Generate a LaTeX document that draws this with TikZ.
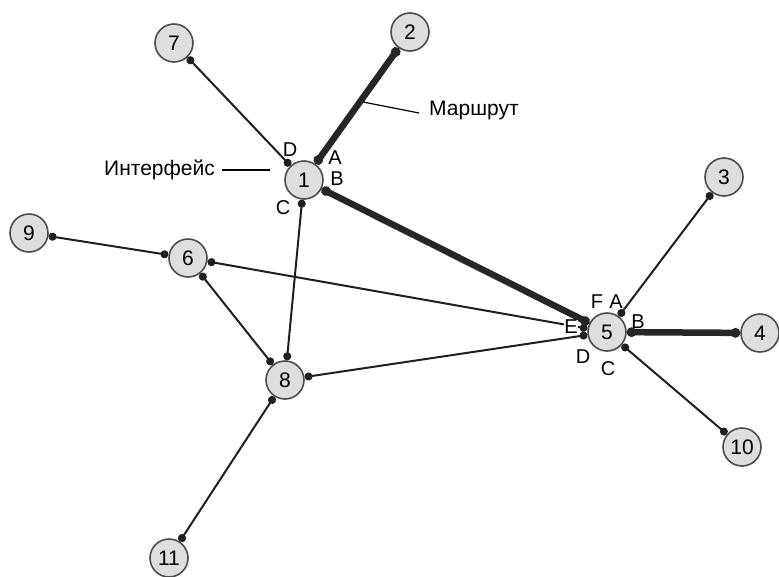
\documentclass[tikz,border=0pt]{standalone}
\usepackage{fontspec}
\setmainfont{Liberation Sans}
\usetikzlibrary{arrows.meta}
\tikzset{
  router/.style={circle,draw=black!70,line width=1.6pt,fill=black!13,minimum size=38pt,inner sep=0pt,font=\fontsize{21}{24}\selectfont},
  link/.style={line width=2pt,black!88,{Circle[length=8pt]}-{Circle[length=8pt]}},
  route/.style={line width=6.5pt,black!85,{Circle[length=9.5pt]}-{Circle[length=9.5pt]}},
  port/.style={font=\fontsize{20}{22}\selectfont,inner sep=0.5pt},
  callout/.style={font=\fontsize{21}{24}\selectfont,inner sep=0pt},
}
\begin{document}
\begin{tikzpicture}[x=1pt,y=-1pt]
\useasboundingbox (0,0) rectangle (779,576);
\node[router] (n1) at (304,180) {1}; \node[router] (n2) at (410,32) {2};
\node[router] (n3) at (724,177) {3}; \node[router] (n4) at (760,333) {4};
\node[router] (n5) at (607,332) {5}; \node[router] (n6) at (188,258) {6};
\node[router] (n7) at (174,43) {7}; \node[router] (n8) at (285,380) {8};
\node[router] (n9) at (29,233) {9}; \node[router] (n10) at (742,447) {10};
\node[router] (n11) at (169,558) {11};
\draw[link] (n7) -- (n1); \draw[link] (n1) -- (n8);
\draw[link] (n9) -- (n6); \draw[link] (n6) -- (n5);
\draw[link] (n6) -- (n8); \draw[link] (n8) -- (n5);
\draw[link] (n5) -- (n3); \draw[link] (n5) -- (n10);
\draw[link] (n8) -- (n11);
\draw[route] (n2) -- (n1); \draw[route] (n1) -- (n5); \draw[route] (n5) -- (n4);
\node[port] (p1d) at (290,150) {D}; \node[port] (p1a) at (335,158) {A};
\node[port] (p1b) at (337,179) {B}; \node[port] (p1c) at (283,208) {C};
\node[port] (p5f) at (597,302) {F}; \node[port] (p5a) at (616,302) {A};
\node[port] (p5b) at (638,322) {B}; \node[port,fill=white] (p5e) at (571,327) {E};
\node[port] (p5d) at (583,357) {D}; \node[port] (p5c) at (608,369) {C};
\node[callout,anchor=east] (iface) at (215,170) {Интерфейс};
\coordinate (ifacept) at (270,170);
\draw[line width=1.2pt] ([xshift=7pt]iface.east) -- (ifacept);
\node[callout,anchor=west] (routelbl) at (429,110) {Маршрут};
\coordinate (routept) at (363,102);
\draw[line width=1.2pt] ([xshift=-10pt,yshift=-3pt]routelbl.west) -- (routept);
\end{tikzpicture}
\end{document}
